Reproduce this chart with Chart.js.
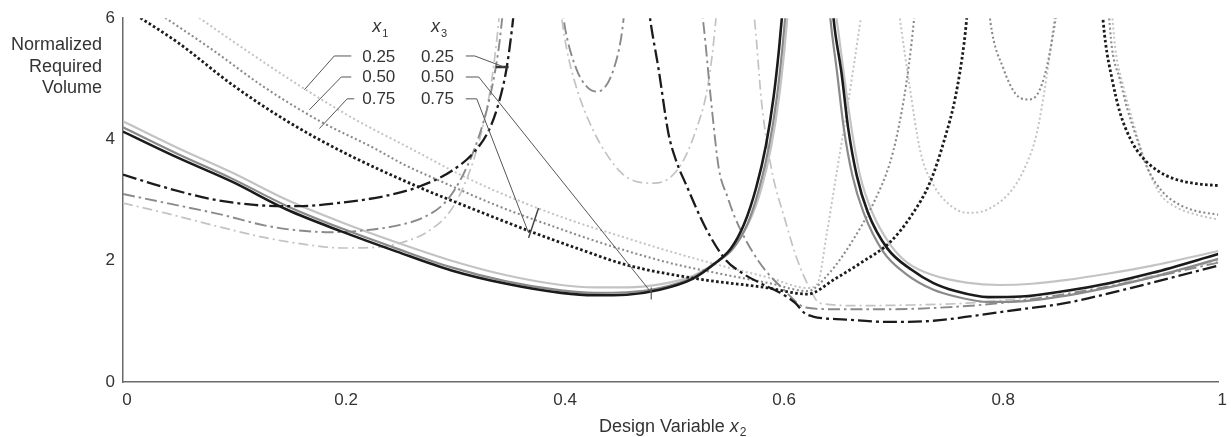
<!DOCTYPE html>
<html><head><meta charset="utf-8">
<script src="https://cdn.jsdelivr.net/npm/chart.js@4.4.1/dist/chart.umd.min.js"></script>
<style>html,body{margin:0;padding:0;background:#fff}#wrap{width:1231px;height:437px;position:relative}</style>
</head><body><div id="wrap"><canvas id="c"></canvas></div>
<script>
// ---- tick labels / categories ----
const xTickValues = [0, 0.2, 0.4, 0.6, 0.8, 1];
const yTickValues = [0, 2, 4, 6];
const x1Levels = ['0.25', '0.50', '0.75'];
const x3Levels = ['0.25', '0.50', '0.75'];
const yTitleLines = ['Normalized', 'Required', 'Volume'];
const xTitleText = 'Design Variable ';

// ---- x3 = 0.50 (solid); shade = x1 ----
const solid25_L = [[0,4.3],[0.05,3.86],[0.1,3.45],[0.15,3.0],[0.2,2.63],[0.25,2.3],[0.3,2.0],[0.35,1.76],[0.4,1.6],[0.43,1.56],[0.46,1.56],[0.49,1.61],[0.52,1.75],[0.54,1.96],[0.558,2.25],[0.572,2.65],[0.583,3.2],[0.592,3.9],[0.599,4.7],[0.604,5.5],[0.608,6.3]];
const solid25_R = [[0.649,6.3],[0.653,5.8],[0.658,5.1],[0.665,4.2],[0.673,3.4],[0.684,2.8],[0.7,2.28],[0.716,1.97],[0.74,1.76],[0.77,1.64],[0.8,1.6],[0.83,1.62],[0.86,1.68],[0.9,1.79],[0.94,1.92],[1.0,2.16]];
const solid50_L = [[0,4.2],[0.05,3.76],[0.1,3.35],[0.15,2.9],[0.2,2.53],[0.25,2.2],[0.3,1.89],[0.35,1.66],[0.4,1.51],[0.43,1.47],[0.46,1.48],[0.49,1.55],[0.52,1.72],[0.54,1.95],[0.557,2.2],[0.57,2.6],[0.581,3.2],[0.59,3.9],[0.597,4.7],[0.602,5.5],[0.606,6.3]];
const solid50_R = [[0.644,6.3],[0.647,5.8],[0.652,5.1],[0.658,4.2],[0.666,3.4],[0.676,2.8],[0.694,2.15],[0.715,1.78],[0.74,1.52],[0.76,1.41],[0.79,1.32],[0.82,1.33],[0.86,1.42],[0.9,1.56],[0.94,1.73],[1.0,2.03]];
const solid75_L = [[0,4.13],[0.05,3.7],[0.1,3.3],[0.15,2.84],[0.2,2.48],[0.25,2.15],[0.3,1.84],[0.35,1.62],[0.4,1.47],[0.43,1.43],[0.46,1.44],[0.49,1.52],[0.52,1.7],[0.54,1.95],[0.555,2.2],[0.567,2.6],[0.578,3.2],[0.587,3.9],[0.594,4.7],[0.599,5.5],[0.603,6.3]];
const solid75_R = [[0.647,6.3],[0.65,5.8],[0.656,5.1],[0.662,4.2],[0.67,3.4],[0.68,2.8],[0.698,2.2],[0.72,1.85],[0.74,1.63],[0.76,1.5],[0.79,1.4],[0.82,1.41],[0.86,1.5],[0.9,1.63],[0.94,1.8],[1.0,2.11]];

// ---- x3 = 0.25 (dash-dot) ----
const dash25_L = [[0,2.95],[0.04,2.78],[0.09,2.55],[0.13,2.38],[0.17,2.26],[0.2,2.21],[0.23,2.22],[0.26,2.33],[0.28,2.5],[0.3,2.85],[0.315,3.4],[0.327,4.1],[0.336,4.9],[0.341,5.6],[0.345,6.3]];
const dash25_U = [[0.398,6.3],[0.405,5.5],[0.415,4.8],[0.428,4.2],[0.44,3.8],[0.455,3.45],[0.47,3.3],[0.485,3.28],[0.5,3.38],[0.513,3.7],[0.524,4.2],[0.532,4.7],[0.538,5.4],[0.543,6.3]];
const dash25_R = [[0.574,6.3],[0.577,5.9],[0.583,4.62],[0.592,3.52],[0.604,2.7],[0.616,2.0],[0.628,1.51],[0.636,1.3],[0.67,1.26],[0.72,1.27],[0.77,1.3],[0.82,1.38],[0.88,1.55],[0.94,1.75],[1.0,2.0]];
const dash50_L = [[0,3.1],[0.04,2.95],[0.09,2.76],[0.13,2.58],[0.16,2.5],[0.19,2.47],[0.22,2.5],[0.25,2.58],[0.275,2.72],[0.295,2.98],[0.31,3.4],[0.324,4.0],[0.335,4.7],[0.343,5.5],[0.348,6.3]];
const dash50_U = [[0.4,6.3],[0.404,5.8],[0.414,5.16],[0.423,4.88],[0.432,4.79],[0.44,4.86],[0.448,5.16],[0.455,5.7],[0.459,6.3]];
const dash50_R = [[0.527,6.3],[0.53,5.9],[0.537,4.62],[0.544,3.52],[0.552,3.05],[0.559,2.7],[0.58,2.0],[0.604,1.51],[0.623,1.23],[0.65,1.2],[0.7,1.2],[0.75,1.23],[0.8,1.3],[0.86,1.45],[0.92,1.65],[1.0,1.97]];
const dash75_L = [[0,3.42],[0.04,3.2],[0.08,3.02],[0.12,2.92],[0.16,2.9],[0.2,2.96],[0.24,3.07],[0.27,3.22],[0.3,3.48],[0.32,3.78],[0.334,4.15],[0.343,4.6],[0.35,5.15],[0.355,5.8],[0.358,6.3]];
const dash75_R = [[0.479,6.3],[0.482,5.9],[0.489,5.16],[0.498,4.1],[0.505,3.65],[0.514,3.26],[0.532,2.54],[0.55,2.02],[0.565,1.8],[0.583,1.62],[0.6,1.47],[0.614,1.3],[0.622,1.14],[0.63,1.08],[0.66,1.03],[0.7,0.99],[0.74,1.01],[0.78,1.1],[0.82,1.2],[0.86,1.3],[0.92,1.55],[1.0,1.92]];

// ---- x3 = 0.75 (dotted) ----
const dot25_L = [[0.066,6.05],[0.11,5.5],[0.16,4.9],[0.21,4.35],[0.268,3.8],[0.31,3.4],[0.36,3.0],[0.41,2.66],[0.455,2.4],[0.5,2.15],[0.55,1.9],[0.59,1.72],[0.625,1.55],[0.634,1.62],[0.643,2.5],[0.652,3.5],[0.662,4.6],[0.672,5.8],[0.676,6.3]];
const dot25_U = [[0.707,6.3],[0.71,5.9],[0.718,4.9],[0.728,3.8],[0.74,3.25],[0.755,2.92],[0.771,2.79],[0.79,2.85],[0.813,3.2],[0.825,3.6],[0.834,4.08],[0.843,5.0],[0.85,5.93],[0.853,6.3]];
const dot25_R = [[0.902,6.3],[0.906,5.5],[0.913,4.9],[0.922,4.3],[0.932,3.7],[0.947,3.1],[0.962,2.88],[0.98,2.76],[1.0,2.68]];
const dot50_L = [[0.035,6.05],[0.08,5.5],[0.13,4.85],[0.18,4.3],[0.23,3.85],[0.255,3.6],[0.289,3.32],[0.34,2.92],[0.4,2.52],[0.453,2.2],[0.5,1.96],[0.544,1.79],[0.59,1.63],[0.625,1.5],[0.645,1.8],[0.665,2.3],[0.686,2.98],[0.7,3.6],[0.707,4.1],[0.715,4.9],[0.72,5.6],[0.724,6.3]];
const dot50_U = [[0.79,6.3],[0.792,5.93],[0.804,5.16],[0.815,4.75],[0.826,4.66],[0.835,4.75],[0.843,5.16],[0.851,5.93],[0.854,6.3]];
const dot50_R = [[0.899,6.3],[0.903,5.5],[0.91,5.0],[0.917,4.5],[0.926,4.0],[0.936,3.5],[0.95,3.12],[0.965,2.92],[0.98,2.82],[1.0,2.76]];
const dot75_L = [[0.012,6.05],[0.05,5.6],[0.1,4.9],[0.15,4.3],[0.2,3.8],[0.268,3.23],[0.32,2.85],[0.371,2.49],[0.42,2.17],[0.46,1.93],[0.525,1.7],[0.586,1.56],[0.625,1.45],[0.65,1.7],[0.675,1.98],[0.7,2.3],[0.72,2.75],[0.737,3.3],[0.75,4.0],[0.76,4.7],[0.768,5.6],[0.772,6.3]];
const dot75_R = [[0.893,6.3],[0.897,5.6],[0.903,5.0],[0.91,4.46],[0.92,4.0],[0.93,3.72],[0.945,3.48],[0.96,3.35],[0.98,3.27],[1.0,3.24]];

// ---- legend leader lines (annotation, data coords) ----
const leaderX1_25 = [[0.1656,4.82],[0.1929,5.377],[0.2084,5.377]];
const leaderX1_50 = [[0.1702,4.49],[0.1993,5.03],[0.2084,5.03]];
const leaderX1_75 = [[0.1793,4.18],[0.2047,4.67],[0.2111,4.67]];
const leaderX3_25 = [[0.313,5.377],[0.3212,5.377],[0.3476,5.197]];
const leaderX3_50 = [[0.313,5.03],[0.3248,5.03],[0.4823,1.475]];
const leaderX3_75 = [[0.313,4.67],[0.323,4.67],[0.3703,2.459]];
const tickX3_25 = [[0.3403,5.197],[0.3521,5.197]];
const tickX3_50 = [[0.4823,1.557],[0.4823,1.36]];
const tickX3_75 = [[0.3794,2.869],[0.3703,2.377]];

// ---- styles ----
const FONT = "'Liberation Sans', Arial, Helvetica, sans-serif";
const shadeColor = { dark: '#1b1b1b', medium: '#8a8a8a', light: '#c3c3c3' };
const styleOf = {
  solid:   { dark: {w:2.6, d:[]}, medium: {w:2.2, d:[]}, light: {w:2.2, d:[]} },
  dashdot: { dark: {w:2.3, d:[14,4,3,4]}, medium: {w:1.9, d:[12,4,2.5,4]}, light: {w:1.7, d:[10,4,2,4]} },
  dotted:  { dark: {w:2.8, d:[2.6,2.4]}, medium: {w:2.1, d:[2,2.6]}, light: {w:2.0, d:[2,2.6]} }
};
const branches = [
  [solid75_L,'solid','dark'],[solid75_R,'solid','dark'],
  [dash75_L,'dashdot','dark'],[dash75_R,'dashdot','dark'],
  [dot75_L,'dotted','dark'],[dot75_R,'dotted','dark'],
  [solid50_L,'solid','medium'],[solid50_R,'solid','medium'],
  [dash50_L,'dashdot','medium'],[dash50_R,'dashdot','medium'],[dash50_U,'dashdot','medium'],
  [dot50_L,'dotted','medium'],[dot50_U,'dotted','medium'],[dot50_R,'dotted','medium'],
  [solid25_L,'solid','light'],[solid25_R,'solid','light'],
  [dash25_L,'dashdot','light'],[dash25_R,'dashdot','light'],[dash25_U,'dashdot','light'],
  [dot25_L,'dotted','light'],[dot25_U,'dotted','light'],[dot25_R,'dotted','light']
];
const leaders = [
  [leaderX1_25,1,'#555'],[leaderX1_50,1,'#555'],[leaderX1_75,1,'#555'],
  [leaderX3_25,1,'#555'],[leaderX3_50,1,'#555'],[leaderX3_75,1,'#555'],
  [tickX3_25,2.5,'#333'],[tickX3_50,1.2,'#555'],[tickX3_75,1.5,'#444']
];
const toXY = arr => arr.map(p => ({x:p[0], y:p[1]}));
const datasets = [];
leaders.forEach(([arr,w,c]) => datasets.push({
  data: toXY(arr), borderColor: c, borderWidth: w, tension: 0, pointRadius: 0, fill: false
}));
branches.forEach(([arr, kind, shade]) => {
  const s = styleOf[kind][shade];
  datasets.push({
    data: toXY(arr), borderColor: shadeColor[shade], borderWidth: s.w, borderDash: s.d,
    cubicInterpolationMode: 'monotone', pointRadius: 0, fill: false,
    borderCapStyle: 'butt', borderJoinStyle: 'round'
  });
});

const textPlugin = {
  id: 'texts',
  afterDraw(chart) {
    const ctx = chart.ctx, xs = chart.scales.x, ys = chart.scales.y, ca = chart.chartArea;
    ctx.save();
    ctx.fillStyle = '#333';
    // y-axis title
    ctx.font = '18px ' + FONT; ctx.textAlign = 'right'; ctx.textBaseline = 'middle';
    const yTitleY = [45, 67, 88];
    yTitleLines.forEach((t, i) => ctx.fillText(t, 102, yTitleY[i]));
    // x-axis title
    ctx.textAlign = 'left';
    ctx.font = '18px ' + FONT; const w1 = ctx.measureText(xTitleText).width;
    ctx.font = 'italic 18px ' + FONT; const w2 = ctx.measureText('x').width;
    ctx.font = '12px ' + FONT; const w3 = ctx.measureText('2').width;
    let x0 = (ca.left + ca.right) / 2 - (w1 + w2 + w3 + 1) / 2 + 2;
    const ty = 427;
    ctx.font = '18px ' + FONT; ctx.fillText(xTitleText, x0, ty);
    ctx.font = 'italic 18px ' + FONT; ctx.fillText('x', x0 + w1, ty);
    ctx.font = '12px ' + FONT; ctx.fillText('2', x0 + w1 + w2 + 1, ty + 6);
    // legend headers
    const hy = ys.getPixelForValue(5.85);
    [['1', 0.2275], ['3', 0.2812]].forEach(([sub, xv]) => {
      const px = xs.getPixelForValue(xv);
      ctx.font = 'italic 18px ' + FONT; ctx.fillText('x', px, hy);
      const wx = ctx.measureText('x').width;
      ctx.font = '11px ' + FONT; ctx.fillText(sub, px + wx + 1, hy + 7);
    });
    // legend values
    ctx.font = '17px ' + FONT;
    const rowY = [5.36, 5.02, 4.66];
    x1Levels.forEach((t, i) => ctx.fillText(t, xs.getPixelForValue(0.2184), ys.getPixelForValue(rowY[i])));
    x3Levels.forEach((t, i) => ctx.fillText(t, xs.getPixelForValue(0.272), ys.getPixelForValue(rowY[i])));
    ctx.restore();
  }
};

new Chart(document.getElementById('c'), {
  type: 'line',
  data: { datasets },
  options: {
    responsive: true, maintainAspectRatio: false, animation: false,
    layout: { padding: { top: 16, right: 9, left: 0, bottom: 0 } },
    plugins: { legend: { display: false }, tooltip: { enabled: false } },
    scales: {
      x: {
        type: 'linear', min: 0, max: 1,
        grid: { display: false, drawTicks: false },
        border: { display: true, color: '#6a6a6a', width: 1.5 },
        afterBuildTicks: s => { s.ticks = xTickValues.map(v => ({ value: v })); },
        ticks: { padding: 8, labelOffset: 4, color: '#333', maxRotation: 0, font: { family: FONT, size: 17 }, callback: v => String(v) },
        afterFit: s => { s.height = 55; }
      },
      y: {
        type: 'linear', min: 0, max: 6,
        grid: { display: false, drawTicks: false },
        border: { display: true, color: '#6a6a6a', width: 1.5 },
        afterBuildTicks: s => { s.ticks = yTickValues.map(v => ({ value: v })); },
        ticks: { padding: 8, color: '#333', font: { family: FONT, size: 17 }, callback: v => String(v) },
        afterFit: s => { s.width = 123; }
      }
    }
  },
  plugins: [textPlugin]
});
</script></body></html>
